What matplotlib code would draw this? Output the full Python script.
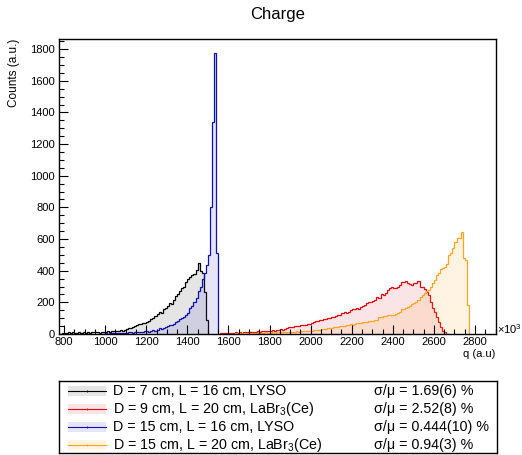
import numpy as np
import matplotlib
matplotlib.use("Agg")
import matplotlib.pyplot as plt
from matplotlib.patches import Rectangle
from matplotlib.ticker import MultipleLocator

plt.rcParams['font.family'] = ['Liberation Sans', 'DejaVu Sans']
plt.rcParams['mathtext.default'] = 'regular'

# ---------------- data ----------------
bin_width = 10

black_start = 780
black_counts = [3, 6,
                8, 5, 10, 7, 12, 6, 9, 11, 8, 10,
                9, 13, 8, 12, 10, 14, 11, 9, 15, 12,
                14, 18, 12, 20, 16, 22, 19, 24, 21, 28,
                32, 36, 40, 45, 52, 58, 62, 66, 70, 68,
                78, 85, 95, 100, 112, 125, 140, 135, 155, 165,
                180, 195, 190, 215, 240, 255, 270, 290, 300, 330,
                345, 360, 375, 380, 405, 446, 400, 385, 267, 90]

red_start = 1550
red_counts = [3, 5, 4, 6, 8,
              7, 9, 6, 10, 8, 12, 9, 11, 14, 10,
              13, 11, 15, 12, 17, 14, 18, 16, 20, 22,
              19, 24, 21, 27, 25, 30, 28, 34, 38, 42,
              45, 43, 48, 52, 50, 56, 54, 58, 62, 65,
              70, 75, 80, 85, 88, 86, 92, 96, 100, 98,
              105, 110, 115, 122, 120, 130, 138, 135, 142, 150,
              155, 160, 165, 158, 172, 178, 185, 195, 205, 200,
              210, 215, 235, 230, 255, 248, 260, 275, 290, 298,
              290, 288, 295, 310, 330, 328, 335, 325, 318, 310,
              322, 320, 338, 300, 298, 285, 267, 245, 205, 165,
              141, 110, 78, 46, 20, 10, 3]

blue_start = 980
blue_counts = [2, 3,
               4, 3, 6, 5, 4, 7, 6, 8, 5, 9,
               8, 10, 12, 9, 13, 11, 15, 14, 12, 16,
               18, 15, 20, 25, 22, 28, 35, 32, 40, 46,
               52, 58, 55, 65, 75, 80, 95, 100, 110, 120,
               135, 165, 175, 205, 230, 270, 300, 350, 385, 435,
               500, 800, 1340, 1773, 511]

orange_start = 1600
orange_counts = [2, 3, 2, 4, 3, 5, 4, 3, 6, 5,
                 5, 7, 6, 8, 6, 9, 7, 8, 10, 9,
                 8, 10, 9, 11, 10, 12, 11, 13, 12, 14,
                 13, 15, 14, 16, 15, 18, 17, 19, 20, 22,
                 21, 24, 26, 25, 28, 30, 29, 33, 35, 36,
                 38, 42, 45, 46, 50, 48, 52, 55, 58, 61,
                 60, 64, 68, 71, 70, 74, 76, 78, 80, 79,
                 84, 88, 90, 105, 110, 112, 115, 118, 120, 122,
                 118, 125, 130, 140, 160, 158, 165, 172, 175, 190,
                 195, 205, 215, 236, 245, 262, 270, 278, 300, 320,
                 340, 372, 385, 410, 415, 425, 440, 500, 510, 545,
                 580, 604, 604, 642, 480, 470, 183]

labels = ["D = 7 cm, L = 16 cm, LYSO",
          "D = 9 cm, L = 20 cm, LaBr$_{3}$(Ce)",
          "D = 15 cm, L = 16 cm, LYSO",
          "D = 15 cm, L = 20 cm, LaBr$_{3}$(Ce)"]
resolutions = ["σ/μ = 1.69(6) %", "σ/μ = 2.52(8) %",
               "σ/μ = 0.444(10) %", "σ/μ = 0.94(3) %"]

line_colors = ["#000000", "#dd0a14", "#1010b0", "#ffa526"]
fill_colors = [(0.55, 0.55, 0.55, 0.22), (0.9, 0.2, 0.25, 0.13),
               (0.3, 0.3, 0.8, 0.14), (1.0, 0.65, 0.15, 0.13)]

series = [(black_start, black_counts), (red_start, red_counts),
          (blue_start, blue_counts), (orange_start, orange_counts)]

# ---------------- figure ----------------
W, H = 522, 455
fig = plt.figure(figsize=(W / 100, H / 100), dpi=100)
ax = fig.add_axes([59.3 / W, 1 - 334 / H, (496 - 59.3) / W, (334 - 39.3) / H])

for (start, counts), lc, fc in zip(series, line_colors, fill_colors):
    counts = np.asarray(counts, dtype=float)
    edges = start + bin_width * np.arange(len(counts) + 1)
    ax.stairs(counts, edges, baseline=0, fill=True, color=fc, lw=0)
    ax.stairs(counts, edges, baseline=0, fill=False, color=lc, lw=0.9)

ax.set_xlim(777, 2902)
ax.set_ylim(0, 1862)
ax.xaxis.set_major_locator(MultipleLocator(200))
ax.xaxis.set_minor_locator(MultipleLocator(50))
ax.yaxis.set_major_locator(MultipleLocator(200))
ax.yaxis.set_minor_locator(MultipleLocator(50))
ax.tick_params(which='both', direction='in', top=False, right=False, width=0.8)
ax.tick_params(which='major', length=6.5)
ax.tick_params(which='minor', length=3.3)
ax.tick_params(axis='x', which='major', labelsize=8, pad=2.5)
ax.tick_params(axis='y', which='major', labelsize=8, pad=3)
for s in ax.spines.values():
    s.set_linewidth(1.0)

def fx(px):
    return px / W

def fy(py):
    return 1 - py / H

fig.text(fx(278), fy(15), "Charge", ha='center', va='center', fontsize=12)
fig.text(fx(14), fy(39), "Counts (a.u.)", rotation=90, ha='center', va='top', fontsize=8.5)
fig.text(fx(495), fy(354), "q (a.u)", ha='right', va='center', fontsize=8)
fig.text(fx(497), fy(329), "×10$^{3}$", ha='left', va='center', fontsize=8)

# ---------------- legend ----------------
lx0, lx1, ly0, ly1 = 59.3, 496.7, 381, 453
lax = fig.add_axes([fx(lx0), fy(ly1), (lx1 - lx0) / W, (ly1 - ly0) / H])
lax.set_xlim(0, lx1 - lx0)
lax.set_ylim(ly1 - ly0, 0)
lax.set_xticks([])
lax.set_yticks([])
for s in lax.spines.values():
    s.set_linewidth(1.0)

row_y = [9.6, 27.7, 45.8, 63.9]
for yc, lab, res, lc, fc in zip(row_y, labels, resolutions, line_colors, fill_colors):
    lax.add_patch(Rectangle((8.3, yc - 5), 38.7, 10, facecolor=fc, edgecolor='none'))
    lax.plot([8.3, 47], [yc, yc], color=lc, lw=0.8)
    lax.plot([27.6], [yc], marker='|', ms=1.5, color=lc, mew=0.6)
    lax.text(54, yc, lab, ha='left', va='center', fontsize=10.3)
    lax.text(315, yc, res, ha='left', va='center', fontsize=10.3)

fig.savefig("out.png", dpi=100)
